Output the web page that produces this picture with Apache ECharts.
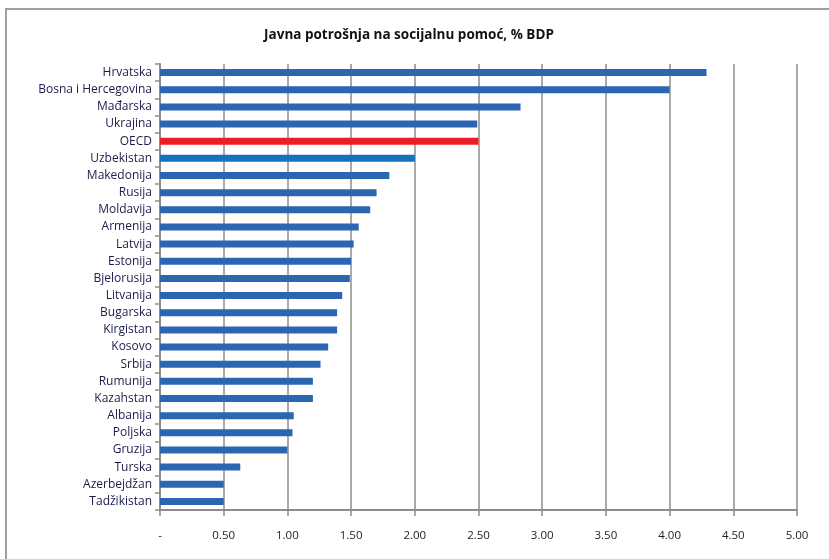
<!DOCTYPE html>
<html>
<head>
<meta charset="utf-8">
<script src="https://cdn.jsdelivr.net/npm/echarts@6/dist/echarts.min.js"></script>
<style>html,body{margin:0;padding:0;background:#fff;}#c{width:829px;height:559px;}</style>
</head>
<body>
<div id="c"></div>
<script>
const categories = ["Hrvatska","Bosna i Hercegovina","Mađarska","Ukrajina","OECD","Uzbekistan","Makedonija","Rusija","Moldavija","Armenija","Latvija","Estonija","Bjelorusija","Litvanija","Bugarska","Kirgistan","Kosovo","Srbija","Rumunija","Kazahstan","Albanija","Poljska","Gruzija","Turska","Azerbejdžan","Tadžikistan"];
const values = [4.29,4.00,2.83,2.49,2.50,2.00,1.80,1.70,1.65,1.56,1.52,1.50,1.49,1.43,1.39,1.39,1.32,1.26,1.20,1.20,1.05,1.04,1.00,0.63,0.50,0.50];
const barColors = {"OECD":"#ee1c25","Uzbekistan":"#1670ba"};
const defaultColor = "#2a66b1";
const xTicks = [0,0.5,1,1.5,2,2.5,3,3.5,4,4.5,5];
const title = "Javna potrošnja na socijalnu pomoć, % BDP";

const chart = echarts.init(document.getElementById('c'), null, {renderer:'canvas'});
chart.setOption({
  animation:false,
  backgroundColor:'#fff',
  title:{text:title,left:404,top:23,textAlign:'center',
    textStyle:{fontFamily:'Open Sans',fontSize:13.5,fontWeight:'bold',color:'#111'}},
  graphic:[{type:'rect',shape:{x:6,y:9,width:900,height:700},style:{fill:'none',stroke:'#a0a0a0',lineWidth:2},silent:true}],
  grid:{left:160,right:32,top:64,bottom:49,containLabel:false},
  xAxis:{type:'value',min:0,max:5,interval:0.5,
    axisLine:{show:true,lineStyle:{color:'#8c8c8c',width:2}},
    axisTick:{show:true,length:6,lineStyle:{color:'#8c8c8c',width:1.5}},
    splitLine:{show:true,lineStyle:{color:'#8c8c8c',width:1.5}},
    axisLabel:{margin:20,fontFamily:'Open Sans',fontSize:11.5,color:'#222',
      formatter:v=>v===0?'-':v.toFixed(2)}},
  yAxis:{type:'category',data:categories,inverse:true,
    axisLine:{show:true,lineStyle:{color:'#8c8c8c',width:2}},
    axisTick:{show:true,length:5,lineStyle:{color:'#8c8c8c',width:1.5}},
    axisLabel:{margin:8,fontFamily:'Open Sans',fontSize:12,color:'#1c1c4a'}},
  series:[{type:'bar',barWidth:7,
    data:values.map((v,i)=>({value:v,itemStyle:{color:barColors[categories[i]]||defaultColor}}))}]
});
</script>
</body>
</html>
